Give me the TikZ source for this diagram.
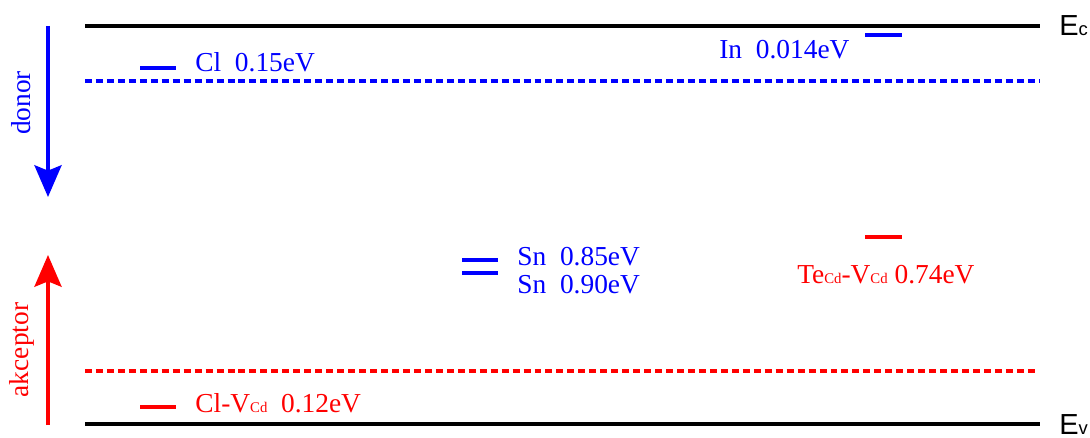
\documentclass[tikz,border=0pt]{standalone}
\usepackage{fontspec}
\setmainfont{Liberation Serif}
\newfontfamily\bandfont{Liberation Sans}
\usetikzlibrary{arrows.meta}

\newcommand{\smallidx}[1]{{\fontsize{8.4}{10}\selectfont #1}}
\newcommand{\bandidx}[1]{{\fontsize{10.5}{12}\selectfont #1}}
\tikzset{
  bandedge/.style={draw=black,line width=2.3pt},
  fermidash/.style={line width=2.1pt,dash pattern=on 3.97pt off 2.27pt},
  levelbar/.style={line width=2.3pt},
  levellabel/.style={anchor=base west,inner sep=0pt,font=\fontsize{15.6}{18}\selectfont},
  edgelabel/.style={anchor=base west,inner sep=0pt,font=\bandfont\fontsize{16.5}{19}\selectfont},
  typearrow/.style={line width=2.5pt,-{Stealth[length=18pt,width=15.3pt,inset=3pt]}}
}

\begin{document}
\begin{tikzpicture}[x=0.02cm,y=0.02cm]
\useasboundingbox (0,0) rectangle (1090,437);
% band edges
\draw[bandedge] (85,411) -- (1040,411);
\draw[bandedge] (85,13) -- (1040,13);
\node[edgelabel] (ec) at (1059,401) {E\bandidx{c}};
\node[edgelabel] (ev) at (1059,3) {E\bandidx{v}};
% dashed reference levels
\draw[fermidash,blue] (85,356) -- (1040,356);
\draw[fermidash,red] (85,66) -- (1037,66);
% donor levels
\draw[levelbar,blue] (140,369) -- (176,369);
\node[levellabel,blue] (cl) at (195,365) {Cl~~0.15eV};
\draw[levelbar,blue] (865,402) -- (902,402);
\node[levellabel,blue] (in) at (719,378) {In~~0.014eV};
\draw[levelbar,blue] (462,177) -- (498,177);
\draw[levelbar,blue] (462,164) -- (498,164);
\node[levellabel,blue] (sna) at (517,172) {Sn~~0.85eV};
\node[levellabel,blue] (snb) at (517,144) {Sn~~0.90eV};
% acceptor levels
\draw[levelbar,red] (865,200) -- (902,200);
\node[levellabel,red] (tecd) at (797,154) {Te\smallidx{Cd}-V\smallidx{Cd} 0.74eV};
\draw[levelbar,red] (140,30) -- (176,30);
\node[levellabel,red] (clv) at (195,25) {Cl-V\smallidx{Cd}~~0.12eV};
% side arrows
\coordinate (dtop) at (48,411);
\coordinate (dtip) at (48,240);
\coordinate (abot) at (48,12);
\coordinate (atip) at (48,182);
\draw[typearrow,blue] (dtop) -- (dtip);
\draw[typearrow,red] (abot) -- (atip);
\node[rotate=90,blue,font=\fontsize{15.6}{18}\selectfont] (donor) at (21,334) {donor};
\node[rotate=90,red,font=\fontsize{15.6}{18}\selectfont] (akceptor) at (21.5,87) {akceptor};
\end{tikzpicture}
\end{document}
